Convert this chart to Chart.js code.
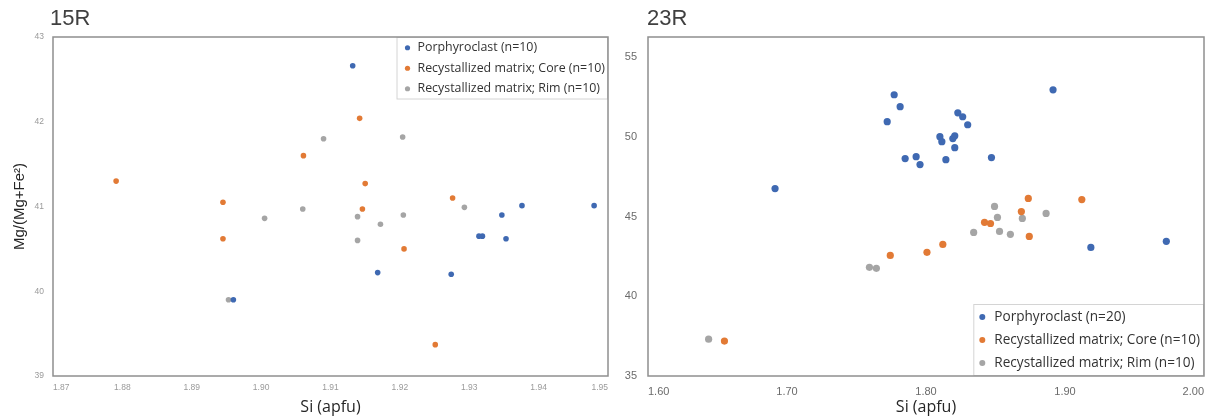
<!doctype html>
<html>

<head>
  <meta charset="UTF-8">
  <script src="https://cdn.jsdelivr.net/npm/chart.js"></script>
  <style>
    body { margin: 0; background: #fff; }
    #wrap { position: relative; width: 1215px; height: 419px; overflow: hidden; }
    #wrap canvas { position: absolute; top: 0; }
    .panel-title {
      position: absolute; top: 7px;
      font: 22px "Liberation Sans", Arial, sans-serif; line-height: 22px; color: #404040;
    }
  </style>
</head>

<body>
  <div id="wrap">
    <canvas id="chart15" width="615" height="419" style="left:0"></canvas>
    <canvas id="chart23" width="600" height="419" style="left:615px"></canvas>
    <div class="panel-title" style="left:50px">15R</div>
    <div class="panel-title" style="left:647px">23R</div>
  </div>

<script>
  // 15R : Si (apfu) vs Mg/(Mg+Fe2)
  const porph15Si = [1.9132, 1.9376, 1.9480, 1.9347, 1.9314, 1.9319, 1.9353, 1.9168, 1.9274, 1.8960];
  const porph15Mg = [42.66, 41.01, 41.01, 40.90, 40.65, 40.65, 40.62, 40.22, 40.20, 39.90];
  const core15Si = [1.8791, 1.8945, 1.9061, 1.9142, 1.9150, 1.9276, 1.9146, 1.9206, 1.9251, 1.8945];
  const core15Mg = [41.30, 41.05, 41.60, 42.04, 41.27, 41.10, 40.97, 40.50, 39.37, 40.62];
  const rim15Si = [1.9060, 1.9090, 1.9204, 1.9139, 1.9172, 1.9205, 1.9293, 1.9139, 1.9005, 1.8953];
  const rim15Mg = [40.97, 41.80, 41.82, 40.88, 40.79, 40.90, 40.99, 40.60, 40.86, 39.90];
  const xTicks15 = [1.87, 1.88, 1.89, 1.90, 1.91, 1.92, 1.93, 1.94, 1.95];
  const yTicks15 = [39, 40, 41, 42, 43];
  const labels15 = ['Porphyroclast (n=10)', 'Recystallized matrix; Core (n=10)', 'Recystallized matrix; Rim (n=10)'];

  // 23R
  const porph23Si = [1.6914, 1.7771, 1.7814, 1.7721, 1.7850, 1.7929, 1.7957, 1.8914, 1.8229, 1.8264,
                     1.8300, 1.8100, 1.8114, 1.8193, 1.8207, 1.8207, 1.8143, 1.8471, 1.9186, 1.9729];
  const porph23Mg = [46.75, 52.63, 51.88, 50.94, 48.63, 48.75, 48.25, 52.94, 51.50, 51.25,
                     50.75, 50.00, 49.69, 49.88, 50.06, 49.31, 48.56, 48.69, 43.06, 43.44];
  const core23Si = [1.6550, 1.7743, 1.8007, 1.8121, 1.8421, 1.8464, 1.8686, 1.8743, 1.8736, 1.9121];
  const core23Mg = [37.19, 42.56, 42.75, 43.25, 44.63, 44.56, 45.31, 43.75, 46.13, 46.06];
  const rim23Si = [1.6436, 1.7593, 1.7643, 1.8343, 1.8493, 1.8514, 1.8529, 1.8607, 1.8693, 1.8864];
  const rim23Mg = [37.31, 41.81, 41.75, 44.00, 45.63, 44.94, 44.06, 43.88, 44.88, 45.19];
  const xTicks23 = [1.60, 1.70, 1.80, 1.90, 2.00];
  const yTicks23 = [35, 40, 45, 50, 55];
  const labels23 = ['Porphyroclast (n=20)', 'Recystallized matrix; Core (n=10)', 'Recystallized matrix; Rim (n=10)'];

  const COLORS = ['#3F69B2', '#E27A35', '#A5A5A5'];
  const SANS = '"Open Sans", "Noto Sans", sans-serif';
  const ARIAL = '"Liberation Sans", Arial, sans-serif';

  const pairs = (xs, ys) => xs.map((x, i) => ({ x: x, y: ys[i] }));

  function makeSets(labels, series, radius) {
    return series.map((s, i) => ({
      label: labels[i],
      data: pairs(s[0], s[1]),
      backgroundColor: COLORS[i],
      borderWidth: 0,
      pointRadius: radius,
      pointHoverRadius: radius
    }));
  }

  // legend box drawn inside the plot, plus the frame around the plot area
  const panelDecor = {
    id: 'panelDecor',
    afterDatasetsDraw(chart, args, o) {
      const { ctx, chartArea: a } = chart;
      const sets = chart.data.datasets;
      ctx.save();
      ctx.font = o.fontSize + 'px ' + SANS;
      const textW = Math.max(...sets.map(d => ctx.measureText(d.label).width));
      const w = o.padLeft + o.textOffset + textW + o.padRight;
      const h = o.rowHeight * sets.length + o.padY * 2;
      const x0 = a.right - w;
      const y0 = o.corner === 'top' ? a.top : a.bottom - h;
      ctx.fillStyle = '#fff';
      ctx.fillRect(x0, y0, w, h);
      ctx.strokeStyle = '#d4d4d4';
      ctx.lineWidth = 1;
      ctx.strokeRect(x0 + 0.5, y0 + 0.5, w - 1, h - 1);
      ctx.textBaseline = 'middle';
      sets.forEach((d, i) => {
        const cy = y0 + o.padY + o.rowHeight * (i + 0.5);
        ctx.fillStyle = d.backgroundColor;
        ctx.beginPath();
        ctx.arc(x0 + o.padLeft, cy, o.markerRadius, 0, Math.PI * 2);
        ctx.fill();
        ctx.fillStyle = '#333';
        ctx.fillText(d.label, x0 + o.padLeft + o.textOffset, cy);
      });
      // plot frame
      ctx.strokeStyle = '#8f8f8f';
      ctx.lineWidth = 1.5;
      ctx.strokeRect(a.left, a.top, a.right - a.left, a.bottom - a.top);
      ctx.restore();
    }
  };

  function scatterOptions(c) {
    return {
      responsive: false,
      animation: false,
      events: [],
      layout: { padding: { top: 37, right: c.padRight, left: 0, bottom: 0 } },
      plugins: {
        legend: { display: false },
        tooltip: { enabled: false },
        panelDecor: c.legend
      },
      scales: {
        x: {
          type: 'linear',
          min: c.xTicks[0],
          max: c.xTicks[c.xTicks.length - 1],
          grid: { display: false, drawTicks: false },
          border: { display: false },
          afterBuildTicks: s => { s.ticks = c.xTicks.map(v => ({ value: v })); },
          afterFit: s => { s.height = 43; },
          ticks: {
            autoSkip: false, maxRotation: 0, align: 'inner',
            callback: v => v.toFixed(2),
            color: c.tickColor, font: { family: ARIAL, size: c.tickSize },
            padding: c.xTickPad
          },
          title: {
            display: true, text: 'Si (apfu)', color: '#262626',
            font: { family: SANS, size: 16 }, padding: { top: 0, bottom: 2 }
          }
        },
        y: {
          type: 'linear',
          min: c.yMin,
          max: c.yMax,
          grid: { display: false, drawTicks: false },
          border: { display: false },
          afterBuildTicks: s => { s.ticks = c.yTicks.map(v => ({ value: v })); },
          afterFit: s => { s.width = c.yWidth; },
          ticks: {
            color: c.tickColor, font: { family: ARIAL, size: c.tickSize },
            padding: c.yTickPad
          },
          title: {
            display: !!c.yTitle, text: c.yTitle || '', color: '#262626',
            font: { family: ARIAL, size: 15 }, padding: { top: 11, bottom: 0 }
          }
        }
      }
    };
  }

  new Chart(document.getElementById('chart15'), {
    type: 'scatter',
    data: {
      datasets: makeSets(labels15, [[porph15Si, porph15Mg], [core15Si, core15Mg], [rim15Si, rim15Mg]], 2.8)
    },
    options: scatterOptions({
      padRight: 6, yWidth: 53, xTicks: xTicks15, yTicks: yTicks15, yMin: 39, yMax: 43,
      tickColor: '#9a9a9a', tickSize: 8.5, xTickPad: 7, yTickPad: 9,
      yTitle: 'Mg/(Mg+Fe²)',
      legend: { corner: 'top', fontSize: 12.4, rowHeight: 20.5, padY: 0.5, padLeft: 11, textOffset: 10, padRight: 3, markerRadius: 2.6 }
    }),
    plugins: [panelDecor]
  });

  new Chart(document.getElementById('chart23'), {
    type: 'scatter',
    data: {
      datasets: makeSets(labels23, [[porph23Si, porph23Mg], [core23Si, core23Mg], [rim23Si, rim23Mg]], 3.6)
    },
    options: scatterOptions({
      padRight: 11, yWidth: 33, xTicks: xTicks23, yTicks: yTicks23, yMin: 35, yMax: 56.25,
      tickColor: '#6b6b6b', tickSize: 11, xTickPad: 9, yTickPad: 11,
      yTitle: null,
      legend: { corner: 'bottom', fontSize: 13.6, rowHeight: 23, padY: 1.5, padLeft: 9, textOffset: 12, padRight: 4, markerRadius: 3 }
    }),
    plugins: [panelDecor]
  });
</script>
</body>

</html>
